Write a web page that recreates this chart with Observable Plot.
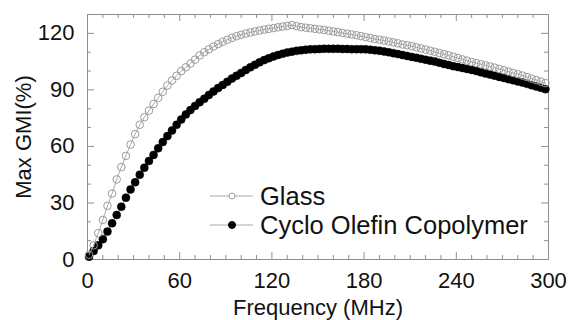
<!DOCTYPE html>
<html><head><meta charset="utf-8">
<script src="https://cdn.jsdelivr.net/npm/d3@7"></script>
<script src="https://cdn.jsdelivr.net/npm/@observablehq/plot@0.6"></script>
<style>
body{margin:0;background:#fff;}
#chart{position:relative;width:573px;height:320px;}
#chart svg.legend{position:absolute;left:0;top:0;pointer-events:none;}
</style></head><body><div id="chart"></div>
<script>
const freq = [1,4,7,10,13,16,19,22,25,28,
  31,34,37,40,43,46,49,52,55,58,
  61,64,67,70,73,76,79,82,85,88,
  91,94,97,100,103,106,109,112,115,118,
  121,124,127,130,133,136,139,142,145,148,
  151,154,157,160,163,166,169,172,175,178,
  181,184,187,190,193,196,199,202,205,208,
  211,214,217,220,223,226,229,232,235,238,
  241,244,247,250,253,256,259,262,265,268,
  271,274,277,280,283,286,289,292,295,298];
const glass = [2.5,7.5,14,21,28.5,35,42.5,49,55,61,
  66.5,71.5,75.5,79,82.5,85.8,89,92.3,95,97.5,
  100,102,104,106,108.3,110,111.5,113,114.3,115.5,
  116.6,117.6,118.5,119.2,119.9,120.5,121,121.5,122,122.4,
  122.8,123.2,123.6,124,124.4,123.8,123.3,123,122.7,122.4,
  122.1,121.8,121.4,121,120.6,120.2,119.8,119.4,119,118.5,
  118,117.5,117,116.6,116.2,115.7,115.2,114.7,114.1,113.7,
  113.2,112.6,112,111.4,110.8,110.2,109.5,108.9,108.3,107.6,
  106.9,106.2,105.5,104.8,104.2,103.6,103,102.4,101.8,101.1,
  100.4,99.7,99,98.3,97.6,96.8,96,95.2,94.4,93.6];
const coc = [1.5,4.5,7.5,10.8,14.8,19.2,23.6,28,32.8,37.2,
  41,45,48.7,52.3,55.5,59,62.3,65.5,68.5,71.5,
  74.3,77,79.3,81.5,83.5,85.3,87.3,89.2,91,92.6,
  94.3,96,97.5,99,100.5,102,103.3,104.6,105.8,106.8,
  107.7,108.5,109.2,109.8,110.3,110.7,111,111.3,111.5,111.6,
  111.7,111.8,111.8,111.8,111.8,111.7,111.7,111.6,111.6,111.6,
  111.5,111.3,111,110.8,110.4,110,109.5,109,108.5,108,
  107.5,107,106.5,106,105.5,105,104.4,103.8,103.2,102.6,
  102.1,101.6,101.1,100.6,100,99.3,98.7,98.1,97.5,96.9,
  96.3,95.7,95.1,94.5,93.9,93.2,92.5,91.8,91.1,90.4];
const seriesNames = ["Glass", "Cyclo Olefin Copolymer"];
const xTicks = [0,60,120,180,240,300];
const xMinorTicks = [10,20,30,40,50,70,80,90,100,110,130,140,150,160,170,190,200,210,220,230,250,260,270,280,290];
const yTicks = [0,30,60,90,120];
const yMinorTicks = [10,20,40,50,70,80,100,110];
const xLabel = "Frequency (MHz)";
const yLabel = "Max GMI(%)";

const rows = freq.map((f, i) => ({f, glass: glass[i], coc: coc[i]}));

const W = 573, H = 320, mL = 87, mR = 25, mT = 14, mB = 61;
const iw = W - mL - mR, ih = H - mT - mB;
const tMaj = 7, tMin = 4;
const axisColor = "#8f8f8f";
const font = '"Liberation Sans", Arial, Helvetica, sans-serif';

const plot = Plot.plot({
  width: W, height: H,
  marginLeft: mL, marginRight: mR, marginTop: mT, marginBottom: mB,
  style: {fontFamily: font, fontSize: "22px", color: "#111", background: "#fff"},
  x: {domain: [0, 300]},
  y: {domain: [0, 130]},
  marks: [
    Plot.tickX(xMinorTicks, {x: d => d, insetTop: ih - tMin, stroke: axisColor}),
    Plot.tickX(xMinorTicks, {x: d => d, insetBottom: ih - tMin, stroke: axisColor}),
    Plot.tickX(xTicks, {x: d => d, insetTop: ih - tMaj, stroke: axisColor}),
    Plot.tickX(xTicks, {x: d => d, insetBottom: ih - tMaj, stroke: axisColor}),
    Plot.tickY(yMinorTicks, {y: d => d, insetRight: iw - tMin, stroke: axisColor}),
    Plot.tickY(yMinorTicks, {y: d => d, insetLeft: iw - tMin, stroke: axisColor}),
    Plot.tickY(yTicks, {y: d => d, insetRight: iw - tMaj, stroke: axisColor}),
    Plot.tickY(yTicks, {y: d => d, insetLeft: iw - tMaj, stroke: axisColor}),
    Plot.frame({stroke: axisColor}),
    Plot.axisX({ticks: xTicks, tickSize: 0, tickPadding: 13, label: xLabel, labelAnchor: "center", labelOffset: 55, labelArrow: "none", fontSize: 22}),
    Plot.axisY({ticks: yTicks, tickSize: 0, tickPadding: 13, label: yLabel, labelAnchor: "center", labelOffset: 72, labelArrow: "none", fontSize: 22}),
    Plot.line(rows, {x: "f", y: "coc", stroke: "#999", strokeWidth: 1}),
    Plot.dot(rows, {x: "f", y: "coc", r: 4, fill: "#000", stroke: "#000", strokeWidth: 0.5}),
    Plot.line(rows, {x: "f", y: "glass", stroke: "#aaa", strokeWidth: 1}),
    Plot.dot(rows, {x: "f", y: "glass", r: 3.8, fill: "none", stroke: "#9a9a9a", strokeWidth: 1})
  ]
});

const chart = document.getElementById("chart");
chart.appendChild(plot);

// legend overlay
const leg = d3.select(chart).append("svg").attr("class", "legend")
  .attr("width", W).attr("height", H);
const legendRows = [
  {name: seriesNames[0], cy: 196, fill: "#fff", stroke: "#9a9a9a", r: 3},
  {name: seriesNames[1], cy: 225, fill: "#000", stroke: "#000", r: 3.5}
];
legendRows.forEach(d => {
  const g = leg.append("g");
  g.append("line").attr("x1", 210).attr("x2", 253).attr("y1", d.cy).attr("y2", d.cy)
    .attr("stroke", "#aaa").attr("stroke-width", 1);
  g.append("circle").attr("cx", 232).attr("cy", d.cy).attr("r", d.r)
    .attr("fill", d.fill).attr("stroke", d.stroke);
  g.append("text").attr("x", 260).attr("y", d.cy + 9).text(d.name)
    .attr("font-family", font).attr("font-size", 25.5).attr("fill", "#111");
});
</script>
</body></html>
